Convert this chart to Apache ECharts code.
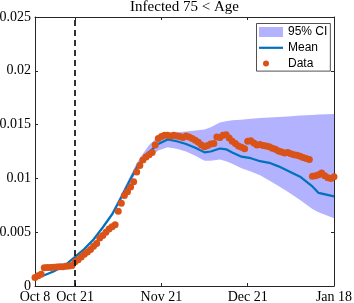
<!DOCTYPE html>
<html><head><meta charset="utf-8">
<script src="https://cdn.jsdelivr.net/npm/echarts@6/dist/echarts.min.js"></script>
<style>html,body{margin:0;padding:0;background:#fff}#c{width:354px;height:303px}</style>
</head><body><div id="c"></div>
<script>
// x axis: day index since Oct 8
const tickDays = [0, 13, 41, 69, 97];
const tickLabels = ['Oct 8', 'Oct 21', 'Nov 21', 'Dec 21', 'Jan 18'];
const markerDay = 13;
const yTicks = [0, 0.005, 0.01, 0.015, 0.02, 0.025];

// observed data, one value per day starting at day 0
const obsValues = [
  0.00080,0.00095,0.00110,0.00170,0.00172,0.00172,0.00175,0.00176,0.00178,0.00180,
  0.00183,0.00186,0.00190,0.00225,0.00245,0.00270,0.00295,0.00315,0.00340,0.00370,
  0.00395,0.00445,0.00470,0.00500,0.00530,0.00550,0.00570,0.00695,0.00770,0.00840,
  0.00875,0.00920,0.00970,0.01060,0.01120,0.01170,0.01200,0.01220,0.01240,0.01310,
  0.01370,0.01390,0.01400,0.01400,0.01395,0.01400,0.01395,0.01390,0.01380,0.01395,
  0.01385,0.01370,0.01355,0.01335,0.01310,0.01295,0.01305,0.01320,0.01325,0.01385,
  0.01380,0.01400,0.01405,0.01375,0.01345,0.01325,0.01300,0.01290,0.01275,0.01345,
  0.01350,0.01330,0.01310,0.01315,0.01305,0.01300,0.01295,0.01280,0.01270,0.01255,
  0.01245,0.01235,0.01240,0.01230,0.01220,0.01215,0.01205,0.01195,0.01185,0.01175,
  0.01020,0.01025,0.01035,0.01050,0.01025,0.01005,0.01000,0.01015
];

// model output
const modelDays = [0,3,6,10,13,16,19,22,25,28,31,33,35,37,40,43,46,49,52,55,57,60,62,64,67,70,73,76,79,82,86,90,92,97];
const meanValues = [0.00077,0.00100,0.00135,0.00198,0.00270,0.00344,0.00432,0.00545,0.00665,0.00825,0.00995,0.01100,0.01185,0.01245,0.01320,0.01362,0.01345,0.01320,0.01285,0.01242,0.01250,0.01278,0.01270,0.01240,0.01202,0.01188,0.01160,0.01145,0.01112,0.01072,0.01016,0.00925,0.00865,0.00833];
const ciLower = [0.00070,0.00093,0.00127,0.00188,0.00258,0.00332,0.00415,0.00528,0.00645,0.00800,0.00965,0.01065,0.01140,0.01195,0.01260,0.01290,0.01275,0.01250,0.01210,0.01165,0.01165,0.01175,0.01160,0.01135,0.01095,0.01065,0.01030,0.00980,0.00930,0.00875,0.00800,0.00715,0.00685,0.00629];
const ciUpper = [0.00084,0.00108,0.00143,0.00206,0.00282,0.00358,0.00448,0.00562,0.00688,0.00855,0.01030,0.01140,0.01230,0.01310,0.01390,0.01420,0.01428,0.01435,0.01445,0.01455,0.01475,0.01520,0.01530,0.01540,0.01545,0.01555,0.01562,0.01566,0.01570,0.01576,0.01585,0.01590,0.01593,0.01598];

const AX = '#262626';
const serif = 'Liberation Serif';
const chart = echarts.init(document.getElementById('c'), null, {renderer: 'canvas'});

function xAx(pos, showLabel) {
  return {
    type: 'value', min: tickDays[0], max: tickDays[tickDays.length - 1], position: pos,
    axisLine: {show: true, onZero: false, lineStyle: {color: AX, width: 1}},
    axisTick: {show: true, inside: true, length: 3, customValues: tickDays, lineStyle: {color: AX, width: 1}},
    axisLabel: {show: showLabel, customValues: tickDays, margin: 4,
      formatter: v => tickLabels[tickDays.indexOf(v)],
      fontFamily: serif, fontSize: 14, color: '#000'},
    splitLine: {show: false}
  };
}
function yAx(pos, showLabel) {
  return {
    type: 'value', min: yTicks[0], max: yTicks[yTicks.length - 1], interval: 0.005, position: pos,
    axisLine: {show: true, onZero: false, lineStyle: {color: AX, width: 1}},
    axisTick: {show: true, inside: true, length: 3, lineStyle: {color: AX, width: 1}},
    axisLabel: {show: showLabel, margin: 4, fontFamily: serif, fontSize: 14, color: '#000'},
    splitLine: {show: false}
  };
}

const bandRows = modelDays.map((d, i) => [d, ciLower[i], ciUpper[i]]);

chart.setOption({
  animation: false,
  backgroundColor: '#fff',
  title: {
    text: 'Infected 75 < Age', left: 184.5, top: 0, textAlign: 'center', padding: 0,
    textStyle: {fontFamily: serif, fontSize: 15, fontWeight: 'normal', color: '#000'}
  },
  grid: {left: 35, top: 17, right: 20, bottom: 17, containLabel: false, outerBoundsMode: 'none'},
  xAxis: [xAx('bottom', true), xAx('top', false)],
  yAxis: [yAx('left', true), yAx('right', false)],
  legend: {
    orient: 'vertical', left: 256.5, top: 23.5,
    padding: [2.5, 3, 1.5, 2.5], itemGap: 3.8, itemWidth: 24, itemHeight: 10,
    backgroundColor: '#fff', borderColor: AX, borderWidth: 0.8,
    textStyle: {fontFamily: 'Liberation Sans', fontSize: 12, color: '#000'},
    selectedMode: false,
    data: [
      {name: '95% CI', icon: 'rect'},
      {name: 'Mean', icon: 'path://M0,0M24,10M0,3.9L24,3.9L24,6.1L0,6.1Z'},
      {name: 'Data', icon: 'path://M0,0M24,10M10,5A3,3,0,1,1,4,5A3,3,0,1,1,10,5Z'}
    ]
  },
  series: [
    {
      name: '95% CI', type: 'custom', z: 1, silent: true,
      itemStyle: {color: '#B2B2FF'},
      encode: {x: 0, y: [1, 2]},
      data: bandRows,
      renderItem: function (params, api) {
        if (params.dataIndex !== 0) return null;
        const pts = [];
        for (let i = 0; i < bandRows.length; i++) pts.push(api.coord([bandRows[i][0], bandRows[i][2]]));
        for (let i = bandRows.length - 1; i >= 0; i--) pts.push(api.coord([bandRows[i][0], bandRows[i][1]]));
        return {type: 'polygon', shape: {points: pts}, style: {fill: api.visual('color')}};
      }
    },
    {
      name: 'Mean', type: 'line', z: 2, symbol: 'none', showSymbol: false, smooth: false, silent: true,
      lineStyle: {color: '#0072BD', width: 2.2}, itemStyle: {color: '#0072BD'},
      data: modelDays.map((d, i) => [d, meanValues[i]])
    },
    {
      name: 'Data', type: 'scatter', z: 3, symbol: 'circle', symbolSize: 7, silent: true,
      itemStyle: {color: '#D95319', opacity: 1},
      data: obsValues.map((v, i) => [i, v]),
      markLine: {
        silent: true, symbol: 'none', label: {show: false},
        lineStyle: {color: '#000', type: [6, 4], width: 1.6},
        data: [{xAxis: markerDay}]
      }
    }
  ]
});
</script></body></html>
